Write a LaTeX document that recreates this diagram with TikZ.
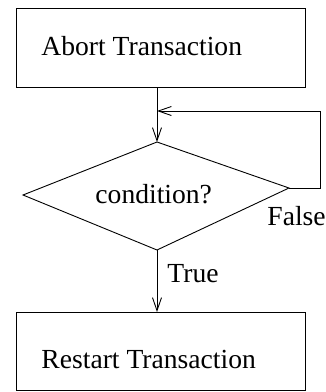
\documentclass[tikz,border=0pt]{standalone}
\usepackage{fontspec}
\setmainfont{Liberation Serif}
\usetikzlibrary{arrows.meta}
\begin{document}
\begin{tikzpicture}[x=1bp,y=-1bp,
  every path/.style={line width=0.9bp},
  lbl/.style={inner sep=0pt,anchor=base west,font=\fontsize{27.6bp}{30bp}\selectfont},
  boxstyle/.style={draw,line width=0.9bp},
  conn/.style={draw,line width=0.9bp,-{Straight Barb[length=13bp,width=9bp,line width=0.9bp]}}]
\useasboundingbox (0,0) rectangle (326,392);
% boxes
\path[boxstyle] (16,8) rectangle (305,87);
\coordinate (abortB) at (157,87);
\node[lbl] (abort) at (41,55) {Abort Transaction};
\path[boxstyle] (16,312) rectangle (305,390);
\coordinate (restartT) at (157,312);
\node[lbl] (restart) at (41,368) {Restart Transaction};
% diamond
\coordinate (dT) at (157,142);
\coordinate (dR) at (289,188);
\coordinate (dB) at (157,250);
\coordinate (dL) at (23,195);
\draw (dT) -- (dR) -- (dB) -- (dL) -- cycle;
\node[lbl] (cond) at (95,203) {condition?};
% connectors
\coordinate (join) at (157,111);
\coordinate (c1) at (320,188);
\coordinate (c2) at (320,111);
\draw[conn] (abortB) -- (dT);
\draw[conn] (dR) -- (c1) -- (c2) -- (join);
\draw[conn] (dB) -- (restartT);
\node[lbl] (false) at (267,225) {False};
\node[lbl] (true) at (167,282) {True};
\end{tikzpicture}
\end{document}
